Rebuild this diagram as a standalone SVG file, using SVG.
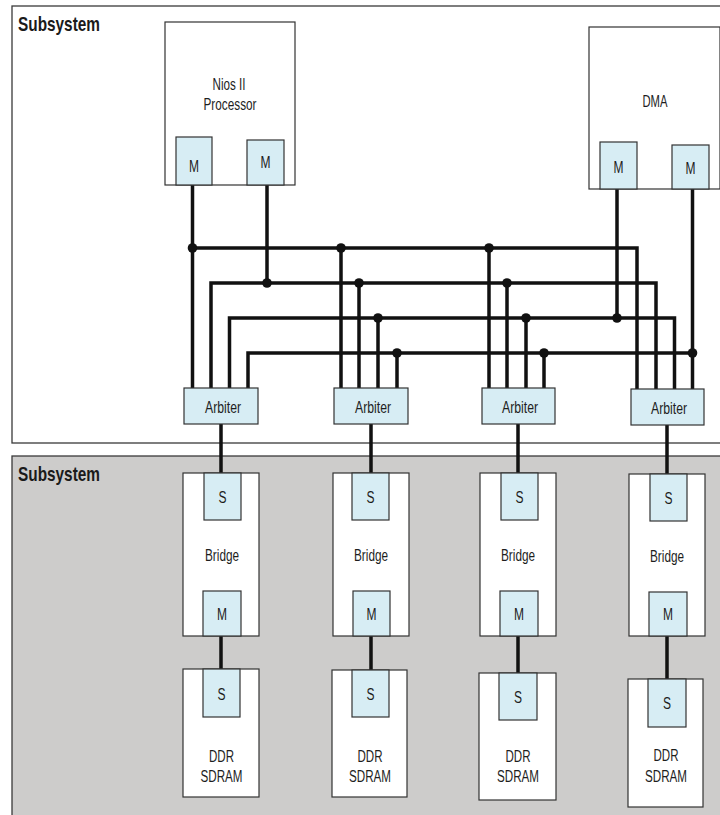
<svg xmlns="http://www.w3.org/2000/svg" width="720" height="815" viewBox="0 0 720 815">
<style>
.sub{stroke:#3a3a3a;stroke-width:1.3}
.box{fill:#fff;stroke:#333;stroke-width:1.2}
.port{fill:#d7edf4;stroke:#333;stroke-width:1.2}
.lbl{font-family:"Liberation Sans",Arial,sans-serif;font-size:16px;fill:#1e1e1e;text-anchor:middle}
.ttl{font-family:"Liberation Sans",Arial,sans-serif;font-size:21px;font-weight:bold;fill:#1a1a1a}
.wire{fill:none;stroke:#111;stroke-width:3.5;stroke-linejoin:miter;stroke-linecap:butt}
.dot{fill:#111}
</style>
<g id="subsystem-top">
<rect class="sub" x="12" y="6" width="720" height="437" fill="#fff"/>
<text class="ttl" x="18" y="31" textLength="82" lengthAdjust="spacingAndGlyphs">Subsystem</text>
</g>
<g id="subsystem-bottom">
<rect class="sub" x="12" y="456" width="720" height="380" fill="#cdcccb"/>
<text class="ttl" x="18" y="481" textLength="82" lengthAdjust="spacingAndGlyphs">Subsystem</text>
</g>
<g id="connectors">
<path class="wire" d="M192.5 185V388M267 185V283M617 189V318M692.5 189V389"/>
<path class="wire" d="M192.5 248H637V389M341 248V388M489 248V388"/>
<path class="wire" d="M211 388V283H656V389M359 283V388M507 283V388"/>
<path class="wire" d="M229.5 388V318H674.5V389M378 318V388M526 318V388"/>
<path class="wire" d="M248 388V353H692.5M397 353V388M544 353V388"/>
<path class="wire" d="M221 424V473M371 424V473M518 424V473M667 425V474"/>
<path class="wire" d="M221 636V669M371 636V670M518 636V673M667 636V679"/>
<circle class="dot" cx="192.5" cy="248" r="4.8"/><circle class="dot" cx="341" cy="248" r="4.8"/><circle class="dot" cx="489" cy="248" r="4.8"/>
<circle class="dot" cx="267" cy="283" r="4.8"/><circle class="dot" cx="359" cy="283" r="4.8"/><circle class="dot" cx="507" cy="283" r="4.8"/>
<circle class="dot" cx="378" cy="318" r="4.8"/><circle class="dot" cx="526" cy="318" r="4.8"/><circle class="dot" cx="617" cy="318" r="4.8"/>
<circle class="dot" cx="397" cy="353" r="4.8"/><circle class="dot" cx="544" cy="353" r="4.8"/><circle class="dot" cx="692.5" cy="353" r="4.8"/>
</g>
<g id="nios">
<rect class="box" x="165" y="22" width="130" height="163"/>
<text class="lbl" x="229" y="90" textLength="33" lengthAdjust="spacingAndGlyphs">Nios II</text>
<text class="lbl" x="230" y="110" textLength="53" lengthAdjust="spacingAndGlyphs">Processor</text>
<rect class="port" x="176" y="137" width="36" height="48"/>
<text class="lbl" x="194" y="172" textLength="10" lengthAdjust="spacingAndGlyphs">M</text>
<rect class="port" x="247" y="140" width="37" height="45"/>
<text class="lbl" x="265.5" y="168" textLength="10" lengthAdjust="spacingAndGlyphs">M</text>
</g>
<g id="dma">
<rect class="box" x="589" y="27" width="131" height="162"/>
<text class="lbl" x="655" y="107" textLength="25" lengthAdjust="spacingAndGlyphs">DMA</text>
<rect class="port" x="600" y="142" width="37" height="47"/>
<text class="lbl" x="618.5" y="173" textLength="10" lengthAdjust="spacingAndGlyphs">M</text>
<rect class="port" x="672" y="145" width="37" height="44"/>
<text class="lbl" x="690.5" y="174" textLength="10" lengthAdjust="spacingAndGlyphs">M</text>
</g>
<g id="arbiter1"><rect class="port" x="184" y="388" width="74" height="36"/><text class="lbl" x="223" y="413" textLength="36" lengthAdjust="spacingAndGlyphs">Arbiter</text></g>
<g id="arbiter2"><rect class="port" x="334" y="388" width="74" height="36"/><text class="lbl" x="373" y="413" textLength="36" lengthAdjust="spacingAndGlyphs">Arbiter</text></g>
<g id="arbiter3"><rect class="port" x="482" y="388" width="73" height="36"/><text class="lbl" x="520" y="413" textLength="36" lengthAdjust="spacingAndGlyphs">Arbiter</text></g>
<g id="arbiter4"><rect class="port" x="631" y="389" width="73" height="36"/><text class="lbl" x="669" y="414" textLength="36" lengthAdjust="spacingAndGlyphs">Arbiter</text></g>
<g id="bridge1">
<rect class="box" x="183" y="473" width="76" height="163"/>
<rect class="port" x="204" y="473" width="37" height="47"/><text class="lbl" x="222.5" y="503" textLength="8" lengthAdjust="spacingAndGlyphs">S</text>
<text class="lbl" x="222" y="561" textLength="34" lengthAdjust="spacingAndGlyphs">Bridge</text>
<rect class="port" x="203" y="591" width="38" height="45"/><text class="lbl" x="222" y="620" textLength="10" lengthAdjust="spacingAndGlyphs">M</text>
</g>
<g id="bridge2">
<rect class="box" x="333" y="473" width="76" height="163"/>
<rect class="port" x="352" y="473" width="37" height="47"/><text class="lbl" x="370.5" y="503" textLength="8" lengthAdjust="spacingAndGlyphs">S</text>
<text class="lbl" x="371" y="561" textLength="34" lengthAdjust="spacingAndGlyphs">Bridge</text>
<rect class="port" x="353" y="591" width="37" height="45"/><text class="lbl" x="371.5" y="620" textLength="10" lengthAdjust="spacingAndGlyphs">M</text>
</g>
<g id="bridge3">
<rect class="box" x="480" y="473" width="76" height="163"/>
<rect class="port" x="501" y="473" width="37" height="47"/><text class="lbl" x="519.5" y="503" textLength="8" lengthAdjust="spacingAndGlyphs">S</text>
<text class="lbl" x="518" y="561" textLength="34" lengthAdjust="spacingAndGlyphs">Bridge</text>
<rect class="port" x="500" y="591" width="38" height="45"/><text class="lbl" x="519" y="620" textLength="10" lengthAdjust="spacingAndGlyphs">M</text>
</g>
<g id="bridge4">
<rect class="box" x="629" y="474" width="76" height="162"/>
<rect class="port" x="650" y="474" width="37" height="47"/><text class="lbl" x="668.5" y="504" textLength="8" lengthAdjust="spacingAndGlyphs">S</text>
<text class="lbl" x="667" y="562" textLength="34" lengthAdjust="spacingAndGlyphs">Bridge</text>
<rect class="port" x="649" y="592" width="38" height="44"/><text class="lbl" x="668" y="620" textLength="10" lengthAdjust="spacingAndGlyphs">M</text>
</g>
<g id="ddr1">
<rect class="box" x="183" y="669" width="76" height="128"/>
<rect class="port" x="203" y="669" width="37" height="48"/><text class="lbl" x="221.5" y="700" textLength="8" lengthAdjust="spacingAndGlyphs">S</text>
<text class="lbl" x="221.5" y="762" textLength="25" lengthAdjust="spacingAndGlyphs">DDR</text>
<text class="lbl" x="221.5" y="782" textLength="42" lengthAdjust="spacingAndGlyphs">SDRAM</text>
</g>
<g id="ddr2">
<rect class="box" x="332" y="670" width="75" height="127"/>
<rect class="port" x="352" y="670" width="37" height="47"/><text class="lbl" x="370.5" y="700" textLength="8" lengthAdjust="spacingAndGlyphs">S</text>
<text class="lbl" x="370" y="762" textLength="25" lengthAdjust="spacingAndGlyphs">DDR</text>
<text class="lbl" x="370" y="782" textLength="42" lengthAdjust="spacingAndGlyphs">SDRAM</text>
</g>
<g id="ddr3">
<rect class="box" x="479" y="673" width="77" height="127"/>
<rect class="port" x="499" y="673" width="38" height="47"/><text class="lbl" x="518" y="703" textLength="8" lengthAdjust="spacingAndGlyphs">S</text>
<text class="lbl" x="518" y="762" textLength="25" lengthAdjust="spacingAndGlyphs">DDR</text>
<text class="lbl" x="518" y="782" textLength="42" lengthAdjust="spacingAndGlyphs">SDRAM</text>
</g>
<g id="ddr4">
<rect class="box" x="628" y="679" width="75" height="128"/>
<rect class="port" x="648" y="679" width="38" height="48"/><text class="lbl" x="667" y="709" textLength="8" lengthAdjust="spacingAndGlyphs">S</text>
<text class="lbl" x="666" y="761" textLength="25" lengthAdjust="spacingAndGlyphs">DDR</text>
<text class="lbl" x="666" y="782" textLength="42" lengthAdjust="spacingAndGlyphs">SDRAM</text>
</g>
</svg>
